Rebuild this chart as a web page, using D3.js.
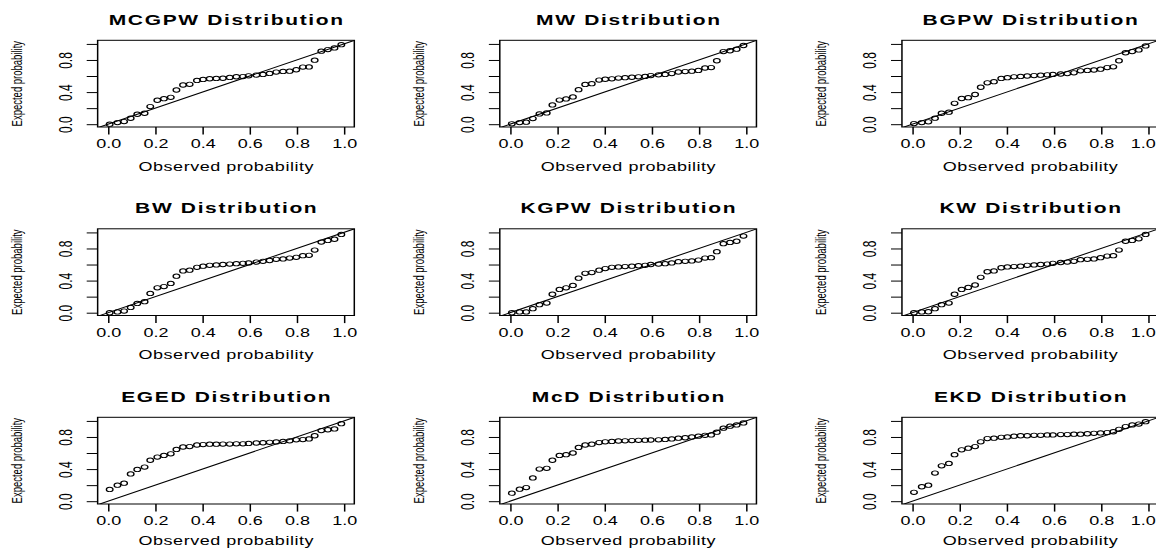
<!DOCTYPE html>
<html>
<head>
<meta charset="utf-8">
<script src="https://cdn.jsdelivr.net/npm/d3@7"></script>
<style>
  html, body { margin: 0; padding: 0; background: #fff; }
  svg { display: block; }
  text { font-family: "Liberation Sans", Arial, Helvetica, sans-serif; fill: #000; }
</style>
</head>
<body>
<div id="chart"></div>
<script>
// Observed (empirical) probabilities, shared by every panel
const observed = [0.007, 0.040, 0.068, 0.096, 0.124, 0.155, 0.179, 0.209, 0.237, 0.266,
                  0.290, 0.318, 0.346, 0.377, 0.403, 0.431, 0.459, 0.487, 0.516, 0.544,
                  0.572, 0.596, 0.629, 0.657, 0.685, 0.713, 0.742, 0.770, 0.798, 0.826,
                  0.852, 0.876, 0.904, 0.932, 0.960, 0.989];

// Expected probabilities under each fitted model
const mcgpw = [0.000, 0.020, 0.033, 0.074, 0.124, 0.136, 0.219, 0.298, 0.318, 0.335,
               0.426, 0.488, 0.496, 0.545, 0.558, 0.566, 0.570, 0.572, 0.583, 0.591,
               0.593, 0.603, 0.612, 0.620, 0.632, 0.649, 0.657, 0.661, 0.678, 0.711,
               0.713, 0.798, 0.909, 0.930, 0.950, 0.990];
const mw    = [0.005, 0.020, 0.025, 0.070, 0.128, 0.140, 0.240, 0.300, 0.315, 0.340,
               0.430, 0.495, 0.505, 0.550, 0.560, 0.565, 0.575, 0.580, 0.585, 0.590,
               0.595, 0.605, 0.615, 0.620, 0.630, 0.650, 0.655, 0.660, 0.670, 0.700,
               0.705, 0.790, 0.905, 0.915, 0.935, 0.980];
const bgpw  = [0.008, 0.020, 0.030, 0.075, 0.136, 0.150, 0.260, 0.320, 0.330, 0.370,
               0.460, 0.515, 0.530, 0.570, 0.580, 0.590, 0.595, 0.600, 0.605, 0.610,
               0.615, 0.620, 0.625, 0.630, 0.640, 0.665, 0.670, 0.675, 0.685, 0.705,
               0.715, 0.790, 0.890, 0.905, 0.925, 0.975];
const bw    = [0.000, 0.010, 0.020, 0.066, 0.116, 0.137, 0.240, 0.310, 0.325, 0.365,
               0.455, 0.520, 0.530, 0.565, 0.580, 0.590, 0.595, 0.600, 0.605, 0.610,
               0.615, 0.620, 0.630, 0.640, 0.650, 0.665, 0.670, 0.680, 0.690, 0.710,
               0.715, 0.780, 0.880, 0.900, 0.915, 0.975];
const kgpw  = [0.000, 0.010, 0.010, 0.050, 0.100, 0.120, 0.230, 0.290, 0.310, 0.340,
               0.430, 0.490, 0.500, 0.530, 0.550, 0.565, 0.570, 0.575, 0.580, 0.585,
               0.590, 0.600, 0.605, 0.610, 0.620, 0.635, 0.640, 0.645, 0.655, 0.680,
               0.685, 0.760, 0.860, 0.875, 0.890, 0.955];
const kw    = [0.000, 0.010, 0.012, 0.050, 0.100, 0.120, 0.230, 0.290, 0.315, 0.345,
               0.440, 0.510, 0.520, 0.560, 0.570, 0.575, 0.580, 0.590, 0.595, 0.600,
               0.605, 0.615, 0.625, 0.630, 0.640, 0.660, 0.665, 0.670, 0.685, 0.705,
               0.710, 0.780, 0.890, 0.900, 0.920, 0.975];
const eged  = [0.146, 0.200, 0.225, 0.340, 0.396, 0.425, 0.510, 0.550, 0.570, 0.590,
               0.645, 0.675, 0.680, 0.700, 0.705, 0.710, 0.710, 0.712, 0.712, 0.715,
               0.715, 0.720, 0.725, 0.728, 0.733, 0.738, 0.745, 0.752, 0.765, 0.768,
               0.775, 0.815, 0.880, 0.890, 0.900, 0.965];
const mcd   = [0.100, 0.150, 0.170, 0.290, 0.400, 0.410, 0.510, 0.570, 0.580, 0.600,
               0.670, 0.700, 0.710, 0.730, 0.740, 0.745, 0.750, 0.752, 0.755, 0.758,
               0.760, 0.762, 0.765, 0.770, 0.775, 0.785, 0.790, 0.800, 0.810, 0.820,
               0.825, 0.860, 0.910, 0.935, 0.950, 0.975];
const ekd   = [0.110, 0.180, 0.200, 0.350, 0.440, 0.470, 0.580, 0.640, 0.660, 0.680,
               0.740, 0.780, 0.785, 0.795, 0.800, 0.810, 0.815, 0.815, 0.820, 0.820,
               0.825, 0.825, 0.830, 0.830, 0.835, 0.835, 0.840, 0.845, 0.850, 0.855,
               0.865, 0.895, 0.930, 0.950, 0.960, 0.990];

const titles = ["MCGPW Distribution", "MW Distribution", "BGPW Distribution",
                "BW Distribution", "KGPW Distribution", "KW Distribution",
                "EGED Distribution", "McD Distribution", "EKD Distribution"];
const expectedSets = [mcgpw, mw, bgpw, bw, kgpw, kw, eged, mcd, ekd];

const xTicks = [0, 0.2, 0.4, 0.6, 0.8, 1.0];
const xTickLabels = ["0.0", "0.2", "0.4", "0.6", "0.8", "1.0"];
const yTicks = [0, 0.2, 0.4, 0.6, 0.8, 1.0];
const yTickLabels = ["0.0", "", "0.4", "", "0.8", ""];

const xLabel = "Observed probability";
const yLabel = "Expected probability";

// The drawing is laid out in a narrower space and stretched horizontally.
const W = 1156, H = 548, STRETCH = 1.5;
const VW = W / STRETCH;

const svg = d3.select("#chart").append("svg")
  .attr("width", W).attr("height", H)
  .attr("viewBox", `0 0 ${VW} ${H}`)
  .attr("preserveAspectRatio", "none");

svg.append("rect").attr("width", VW).attr("height", H).attr("fill", "#fff");

const boxW = 171.1, boxH = 86.7;
const left0 = 65.1, colStep = 268.1;
const top0 = 40.3, rowStep = 188.5;

titles.forEach((title, k) => {
  const col = k % 3, row = Math.floor(k / 3);
  const left = left0 + col * colStep;
  const top = top0 + row * rowStep;
  const g = svg.append("g")
    .attr("transform", `translate(${left},${top})`);

  const x = d3.scaleLinear().domain([-0.044, 1.044]).range([0, boxW]);
  const y = d3.scaleLinear().domain([-0.035, 1.045]).range([boxH, 0]);

  const clipId = `clip-${k}`;
  g.append("clipPath").attr("id", clipId)
    .append("rect").attr("width", boxW).attr("height", boxH);

  const plot = g.append("g").attr("clip-path", `url(#${clipId})`);

  // reference line y = x
  plot.append("line")
    .attr("x1", x(-0.2)).attr("y1", y(-0.2))
    .attr("x2", x(1.2)).attr("y2", y(1.2))
    .attr("stroke", "#000").attr("stroke-width", 1);

  const expected = expectedSets[k];
  plot.selectAll("circle")
    .data(observed.map((o, i) => ({ o, e: expected[i] })))
    .join("circle")
    .attr("cx", d => x(d.o))
    .attr("cy", d => y(d.e))
    .attr("r", 2.2)
    .attr("fill", "none")
    .attr("stroke", "#000")
    .attr("stroke-width", 0.9);

  // frame
  g.append("rect")
    .attr("width", boxW).attr("height", boxH)
    .attr("fill", "none").attr("stroke", "#000").attr("stroke-width", 1);

  // bottom axis
  const xAxis = g.append("g")
    .attr("transform", `translate(0,${boxH})`)
    .call(d3.axisBottom(x)
      .tickValues(xTicks)
      .tickFormat(d => xTickLabels[xTicks.indexOf(d)])
      .tickSizeInner(7.6).tickSizeOuter(0));
  xAxis.select(".domain").remove();
  xAxis.selectAll(".tick line").attr("stroke", "#000").attr("stroke-width", 1);
  xAxis.selectAll(".tick text")
    .attr("y", 21.3).attr("dy", null)
    .attr("font-size", 12).attr("fill", "#000")
    .each(function (d) {
      // nudge a label left if it would run past the right page edge
      const half = this.getComputedTextLength() / 2;
      const overflow = left + x(d) + half - (VW - 0.6);
      if (overflow > 0) d3.select(this).attr("x", -overflow);
    });
  xAxis.attr("font-family", null);

  // left axis
  const yAxis = g.append("g")
    .call(d3.axisLeft(y)
      .tickValues(yTicks)
      .tickFormat(d => yTickLabels[yTicks.indexOf(d)])
      .tickSizeInner(7.3).tickSizeOuter(0));
  yAxis.select(".domain").remove();
  yAxis.selectAll(".tick line").attr("stroke", "#000").attr("stroke-width", 1);
  yAxis.selectAll(".tick text")
    .attr("x", null).attr("y", null).attr("dy", null)
    .attr("text-anchor", "middle")
    .attr("transform", "translate(-17.1,0) rotate(-90)")
    .attr("font-size", 12).attr("fill", "#000");
  yAxis.attr("font-family", null);

  // title
  g.append("text")
    .attr("x", boxW / 2 + 0.5).attr("y", -15.8)
    .attr("text-anchor", "middle")
    .attr("font-size", 14).attr("font-weight", "bold")
    .attr("letter-spacing", 1.1)
    .text(title);

  // axis titles (kept inside the page at the bottom edge)
  const xLabelY = Math.min(boxH + 43.7, H - top - 3);
  g.append("text")
    .attr("x", boxW / 2 + 0.2).attr("y", xLabelY)
    .attr("text-anchor", "middle")
    .attr("font-size", 12).attr("letter-spacing", 0.35)
    .text(xLabel);

  g.append("text")
    .attr("transform", `translate(-50.4,${boxH / 2}) rotate(-90)`)
    .attr("text-anchor", "middle")
    .attr("font-size", 9.5)
    .text(yLabel);
});
</script>
</body>
</html>
